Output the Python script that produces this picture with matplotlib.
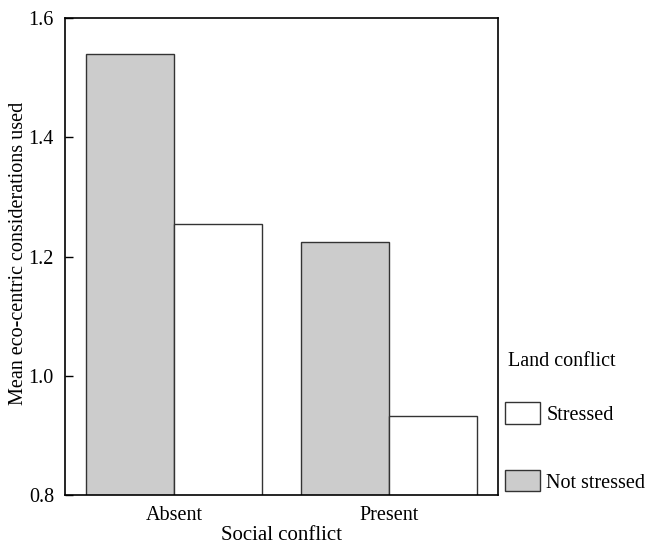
import matplotlib
matplotlib.use('Agg')
import matplotlib.pyplot as plt
from matplotlib.patches import Patch
import numpy as np

groups = ['Absent', 'Present']
not_stressed = [1.54, 1.224]
stressed = [1.254, 0.932]

plt.rcParams['font.family'] = ['Liberation Serif', 'DejaVu Serif']
plt.rcParams['font.size'] = 14.5

fig = plt.figure(figsize=(6.48, 5.48), dpi=100)
ax = fig.add_axes([65 / 648, 53 / 548, 433 / 648, 477 / 548])

x = np.arange(len(groups))
w = 0.41
ax.bar(x - w / 2, not_stressed, w, bottom=0, color='#cccccc', edgecolor='#333333', lw=1)
ax.bar(x + w / 2, stressed, w, bottom=0, color='white', edgecolor='#333333', lw=1)

ax.set_xlim(-0.507, 1.507)
ax.set_ylim(0.8, 1.6)
ax.set_yticks([0.8, 1.0, 1.2, 1.4, 1.6])
ax.set_yticklabels(['0.8', '1.0', '1.2', '1.4', '1.6'])
ax.set_xticks(x)
ax.set_xticklabels(groups)
ax.tick_params(axis='y', direction='in', length=5.5, width=1, pad=8)
ax.tick_params(axis='x', length=0, pad=8)
for s in ax.spines.values():
    s.set_linewidth(1.2)
ax.set_xlabel('Social conflict', fontsize=15, labelpad=1)
ax.set_ylabel('Mean eco-centric considerations used')
ax.yaxis.set_label_coords(-0.086, 0.506)

# legend title set as plain text so the gap matches the reference
fig.text(508 / 648, 1 - 361 / 548, 'Land conflict', ha='left', va='center')
handles = [Patch(facecolor='white', edgecolor='#333333', lw=1),
           Patch(facecolor='#cccccc', edgecolor='#333333', lw=1)]
fig.legend(handles, ['Stressed', 'Not stressed'],
           loc='center left', bbox_to_anchor=(505 / 648, 1 - 447.5 / 548),
           frameon=False, borderpad=0, borderaxespad=0,
           handlelength=1.75, handleheight=1.25,
           handletextpad=0.3, labelspacing=2.25)

fig.savefig('out.png', dpi=100)
